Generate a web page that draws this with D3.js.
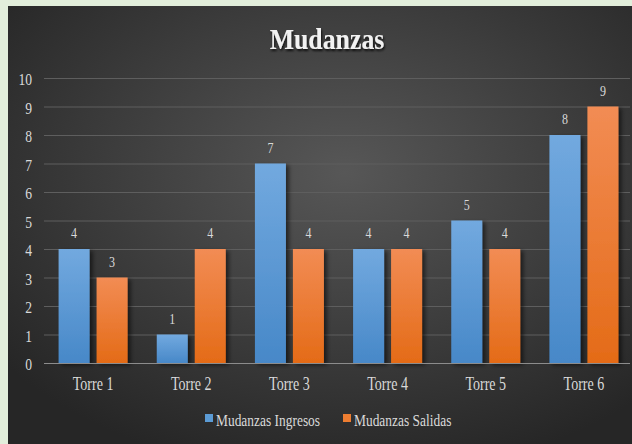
<!DOCTYPE html>
<html>
<head>
<script src="https://cdn.jsdelivr.net/npm/d3@7"></script>
<style>
  body { margin: 0; background: #e2eedb; }
  text { font-family: "Liberation Serif", "Times New Roman", serif; }
</style>
</head>
<body>
<div id="chart"></div>
<script>
// data
var categories = ['Torre 1', 'Torre 2', 'Torre 3', 'Torre 4', 'Torre 5', 'Torre 6'];
var ingresos = [4, 1, 7, 4, 5, 8];
var salidas = [3, 4, 4, 4, 4, 9];
var seriesNames = ['Mudanzas Ingresos', 'Mudanzas Salidas'];
var yTicks = [0, 1, 2, 3, 4, 5, 6, 7, 8, 9, 10];

var width = 632, height = 444;
var svg = d3.select('#chart').append('svg')
  .attr('width', width).attr('height', height);

// text in the original is a narrow Times, so squeeze it sideways
function label(sel, x, y, sx) {
  return sel.attr('transform', 'translate(' + x + ',' + y + ') scale(' + sx + ',1)');
}

var defs = svg.append('defs');
var bg = defs.append('radialGradient').attr('id', 'bg')
  .attr('cx', '54%').attr('cy', '38%').attr('r', '70%');
bg.append('stop').attr('offset', '0%').attr('stop-color', '#575757');
bg.append('stop').attr('offset', '100%').attr('stop-color', '#262626');

var gBlue = defs.append('linearGradient').attr('id', 'gBlue')
  .attr('x1', 0).attr('y1', 0).attr('x2', 0).attr('y2', 1);
gBlue.append('stop').attr('offset', '0%').attr('stop-color', '#72a9df');
gBlue.append('stop').attr('offset', '100%').attr('stop-color', '#4788c8');
var gOrange = defs.append('linearGradient').attr('id', 'gOrange')
  .attr('x1', 0).attr('y1', 0).attr('x2', 0).attr('y2', 1);
gOrange.append('stop').attr('offset', '0%').attr('stop-color', '#f28c54');
gOrange.append('stop').attr('offset', '100%').attr('stop-color', '#e46b17');

var shadow = defs.append('filter').attr('id', 'shadow')
  .attr('x', '-20%').attr('y', '-20%').attr('width', '160%').attr('height', '140%');
shadow.append('feDropShadow').attr('dx', 3).attr('dy', 2).attr('stdDeviation', 2)
  .attr('flood-color', '#000').attr('flood-opacity', 0.55);

var tShadow = defs.append('filter').attr('id', 'tshadow');
tShadow.append('feDropShadow').attr('dx', 1).attr('dy', 2).attr('stdDeviation', 1.2)
  .attr('flood-color', '#000').attr('flood-opacity', 0.8);

svg.append('rect').attr('x', 8).attr('y', 6)
  .attr('width', width - 8).attr('height', height - 6)
  .attr('fill', 'url(#bg)');

label(svg.append('text'), 327, 49, 0.86)
  .attr('text-anchor', 'middle')
  .attr('font-size', 30).attr('font-weight', 'bold')
  .attr('fill', '#f2f2f2').attr('filter', 'url(#tshadow)')
  .text('Mudanzas');

var x0 = 44, x1 = 633;
var y = d3.scaleLinear().domain([0, 10]).range([363, 78]);
var x = d3.scaleBand().domain(categories).range([x0, x1]).paddingInner(0).paddingOuter(0);
var xs = d3.scaleBand().domain(seriesNames).range([0, x.bandwidth()])
  .paddingInner(0.184).paddingOuter(0.384);

// grid
svg.append('g').selectAll('line').data(yTicks.slice(1)).enter().append('line')
  .attr('x1', x0).attr('x2', 630)
  .attr('y1', function(d){ return y(d) + 0.5; })
  .attr('y2', function(d){ return y(d) + 0.5; })
  .attr('stroke', '#5e5e5e').attr('stroke-width', 1);

svg.append('g').selectAll('text').data(yTicks).enter().append('text')
  .each(function(d){ label(d3.select(this), 32, y(d) + 7, 0.8); })
  .attr('text-anchor', 'end').attr('font-size', 17).attr('fill', '#d9d9d9')
  .text(function(d){ return d; });

var series = [
  { name: seriesNames[0], values: ingresos, fill: 'url(#gBlue)' },
  { name: seriesNames[1], values: salidas, fill: 'url(#gOrange)' }
];

series.forEach(function(s) {
  var g = svg.append('g');
  g.selectAll('rect').data(s.values).enter().append('rect')
    .attr('x', function(d, i){ return x(categories[i]) + xs(s.name); })
    .attr('y', function(d){ return y(d); })
    .attr('width', xs.bandwidth())
    .attr('height', function(d){ return y(0) - y(d); })
    .attr('fill', s.fill)
    .attr('filter', 'url(#shadow)');
  g.selectAll('text').data(s.values).enter().append('text')
    .each(function(d, i){
      label(d3.select(this), x(categories[i]) + xs(s.name) + xs.bandwidth() / 2, y(d) - 11, 0.8);
    })
    .attr('text-anchor', 'middle').attr('font-size', 15).attr('fill', '#d9d9d9')
    .text(function(d){ return d; });
});

// baseline
svg.append('line').attr('x1', x0).attr('x2', 630)
  .attr('y1', y(0) + 0.5).attr('y2', y(0) + 0.5)
  .attr('stroke', '#8c8c8c').attr('stroke-width', 1.2);

svg.append('g').selectAll('text').data(categories).enter().append('text')
  .each(function(d){ label(d3.select(this), x(d) + x.bandwidth() / 2, 390, 0.78); })
  .attr('text-anchor', 'middle')
  .attr('font-size', 18).attr('fill', '#d9d9d9')
  .text(function(d){ return d; });

// legend
var legendX = [205, 343];
var legendColors = ['#5b9bd5', '#ed7d31'];
seriesNames.forEach(function(n, i) {
  svg.append('rect').attr('x', legendX[i]).attr('y', 414)
    .attr('width', 8).attr('height', 8).attr('fill', legendColors[i]);
  label(svg.append('text'), legendX[i] + 11, 426, 0.84)
    .attr('font-size', 16).attr('fill', '#d9d9d9')
    .text(n);
});
</script>
</body>
</html>
